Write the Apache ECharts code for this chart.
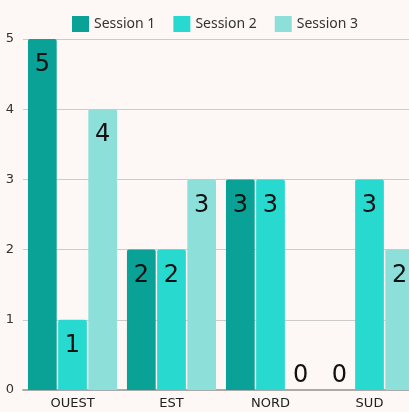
<!DOCTYPE html>
<html>
<head>
<meta charset="utf-8">
<title>Sessions par région</title>
<script src="https://cdn.jsdelivr.net/npm/echarts@6/dist/echarts.min.js"></script>
<style>
  html, body { margin: 0; padding: 0; background: #fdf8f5; }
  #chart { width: 409px; height: 412px; }
</style>
</head>
<body>
<div id="chart"></div>
<script>
// données
var regions = ['OUEST', 'EST', 'NORD', 'SUD'];
var session1 = [5, 2, 3, 0];
var session2 = [1, 2, 3, 3];
var session3 = [4, 3, 0, 2];
var seriesNames = ['Session 1', 'Session 2', 'Session 3'];
var couleurs = ['#0aa196', '#27d9cf', '#8ddfda'];

var chart = echarts.init(document.getElementById('chart'));

// valeur 0 -> étiquette au-dessus de l'axe
function items(arr) {
    return arr.map(function (v) {
        return v === 0 ? { value: v, label: { position: 'top', distance: 2 } } : v;
    });
}

function serie(nom, data, i) {
    return {
        name: nom,
        type: 'bar',
        data: items(data),
        barGap: '5%',
        barCategoryGap: '10%',
        itemStyle: { color: couleurs[i], borderRadius: [2, 2, 0, 0] },
        label: {
            show: true,
            position: 'insideTop',
            distance: 14,
            color: '#111',
            fontSize: 24,
            fontFamily: 'DejaVu Sans'
        }
    };
}

chart.setOption({
    backgroundColor: '#fdf8f5',
    animation: false,
    legend: {
        top: 11,
        left: 67,
        itemWidth: 17,
        itemHeight: 16,
        itemGap: 18,
        icon: 'rect',
        textStyle: { fontSize: 14, color: '#333', fontFamily: 'Noto Sans' },
        data: seriesNames
    },
    // la dernière catégorie déborde du cadre à droite
    grid: { left: 23, width: 396, top: 39, bottom: 22, outerBoundsMode: 'none' },
    xAxis: {
        type: 'category',
        data: regions,
        axisTick: { show: false },
        axisLine: { lineStyle: { color: '#aaa', width: 2 } },
        axisLabel: { color: '#222', fontSize: 13, margin: 7, fontFamily: 'DejaVu Sans' }
    },
    yAxis: {
        type: 'value',
        min: 0,
        max: 5,
        interval: 1,
        axisLine: { show: false },
        axisLabel: { color: '#333', fontSize: 13, margin: 9, fontFamily: 'DejaVu Sans' },
        splitLine: { lineStyle: { color: '#ccc' } }
    },
    series: [
        serie(seriesNames[0], session1, 0),
        serie(seriesNames[1], session2, 1),
        serie(seriesNames[2], session3, 2)
    ]
});
</script>
</body>
</html>
